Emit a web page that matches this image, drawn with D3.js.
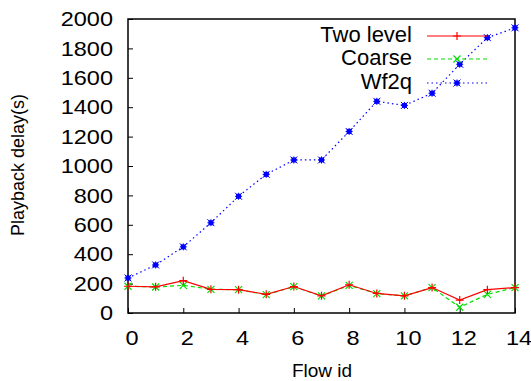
<!DOCTYPE html>
<html>
<head>
<meta charset="utf-8">
<script src="https://cdn.jsdelivr.net/npm/d3@7"></script>
<style>
  body { margin: 0; background: #fff; }
  svg { display: block; font-family: "Liberation Sans", Arial, Helvetica, sans-serif; }
</style>
</head>
<body>
<svg id="chart" width="531" height="381"></svg>
<script>
const flowIds = [0,1,2,3,4,5,6,7,8,9,10,11,12,13,14];
const twoLevel = [182,178,220,161,159,127,180,117,192,133,117,173,88,159,173];
const coarse   = [182,177,188,161,159,125,179,116,188,132,116,173,39,127,173];
const wf2q     = [238,327,450,614,794,943,1041,1041,1235,1440,1412,1495,1692,1873,1940];
const xTicks = [0,2,4,6,8,10,12,14];
const yTicks = [0,200,400,600,800,1000,1200,1400,1600,1800,2000];
const seriesNames = ["Two level", "Coarse", "Wf2q"];

const svg = d3.select("#chart");
const W = 531, H = 381;
const m = {left: 128, right: 16, top: 19, bottom: 68};
const x = d3.scaleLinear().domain([0,14]).range([m.left, W - m.right]);
const y = d3.scaleLinear().domain([0,2000]).range([H - m.bottom, m.top]);

const stretch = 1.12;
// axes (inward ticks)
const xAxis = d3.axisBottom(x).tickValues(xTicks).tickSize(-5).tickFormat(d3.format("d"));
const yAxis = d3.axisLeft(y).tickValues(yTicks).tickSize(-5).tickFormat(d3.format("d"));

const gx = svg.append("g").attr("transform", `translate(0,${H - m.bottom})`).call(xAxis);
const gy = svg.append("g").attr("transform", `translate(${m.left},0)`).call(yAxis);
[gx, gy].forEach(g => {
  g.select(".domain").remove();
  g.selectAll(".tick line").attr("stroke", "#000").attr("stroke-width", 1);
  g.selectAll(".tick text").attr("fill", "#000").style("font-size", "21px");
});
gx.selectAll(".tick text").attr("dy", "0.71em").attr("y", 17).attr("x", 0)
  .attr("transform", `translate(3.5,0) scale(${stretch},1)`);
gy.selectAll(".tick text").attr("x", -15 / stretch)
  .attr("transform", `scale(${stretch},1)`);

// frame
svg.append("rect")
  .attr("x", m.left).attr("y", m.top)
  .attr("width", W - m.left - m.right).attr("height", H - m.top - m.bottom)
  .attr("fill", "none").attr("stroke", "#000").attr("stroke-width", 1.5);

// labels
svg.append("text").attr("x", 322).attr("y", 372).attr("text-anchor", "middle")
  .attr("dominant-baseline", "middle").style("font-size", "19px").text("Flow id");
svg.append("text").attr("transform", "translate(19,165) rotate(-90)")
  .attr("text-anchor", "middle").attr("dominant-baseline", "middle")
  .style("font-size", "18px").text("Playback delay(s)");

// marker drawers
function plusMarker(g, cx, cy, color, s) {
  g.append("path").attr("d", `M${cx-s},${cy}H${cx+s}M${cx},${cy-s}V${cy+s}`)
    .attr("stroke", color).attr("stroke-width", 1.2).attr("fill", "none");
}
function crossMarker(g, cx, cy, color, s) {
  g.append("path").attr("d", `M${cx-s},${cy-s}L${cx+s},${cy+s}M${cx-s},${cy+s}L${cx+s},${cy-s}`)
    .attr("stroke", color).attr("stroke-width", 1.2).attr("fill", "none");
}
function starMarker(g, cx, cy, color, s) {
  g.append("rect").attr("x", cx - s + 1).attr("y", cy - s + 1).attr("width", 2*s - 2).attr("height", 2*s - 2)
    .attr("fill", color);
  g.append("path").attr("d", `M${cx-s},${cy}H${cx+s}M${cx},${cy-s}V${cy+s}M${cx-s},${cy-s}L${cx+s},${cy+s}M${cx-s},${cy+s}L${cx+s},${cy-s}`)
    .attr("stroke", color).attr("stroke-width", 1).attr("fill", "none");
}

const series = [
  {name: seriesNames[0], values: twoLevel, color: "#ff0000", dash: null, marker: plusMarker, ms: 4},
  {name: seriesNames[1], values: coarse, color: "#00dd00", dash: "4,3", marker: crossMarker, ms: 3.5},
  {name: seriesNames[2], values: wf2q, color: "#0000ff", dash: "1.5,3", marker: starMarker, ms: 3.5}
];

const line = d3.line().x((d,i) => x(flowIds[i])).y(d => y(d));

const plot = svg.append("g");
// draw in reverse so red is on top
series.slice().reverse().forEach(s => {
  plot.append("path").datum(s.values).attr("d", line)
    .attr("fill", "none").attr("stroke", s.color).attr("stroke-width", 1.2)
    .attr("stroke-dasharray", s.dash);
  const mg = plot.append("g");
  s.values.forEach((v,i) => s.marker(mg, x(flowIds[i]), y(v), s.color, s.ms));
});

// legend
const legendY = [36, 59, 83];
series.forEach((s, i) => {
  const g = svg.append("g");
  g.append("text").attr("x", 412).attr("y", legendY[i]).attr("text-anchor", "end")
    .attr("dominant-baseline", "middle").style("font-size", "22px").text(s.name);
  g.append("line").attr("x1", 427).attr("x2", 487).attr("y1", legendY[i]).attr("y2", legendY[i])
    .attr("stroke", s.color).attr("stroke-width", 1.2).attr("stroke-dasharray", s.dash);
  s.marker(g, 457, legendY[i], s.color, s.ms);
});
</script>
</body>
</html>
